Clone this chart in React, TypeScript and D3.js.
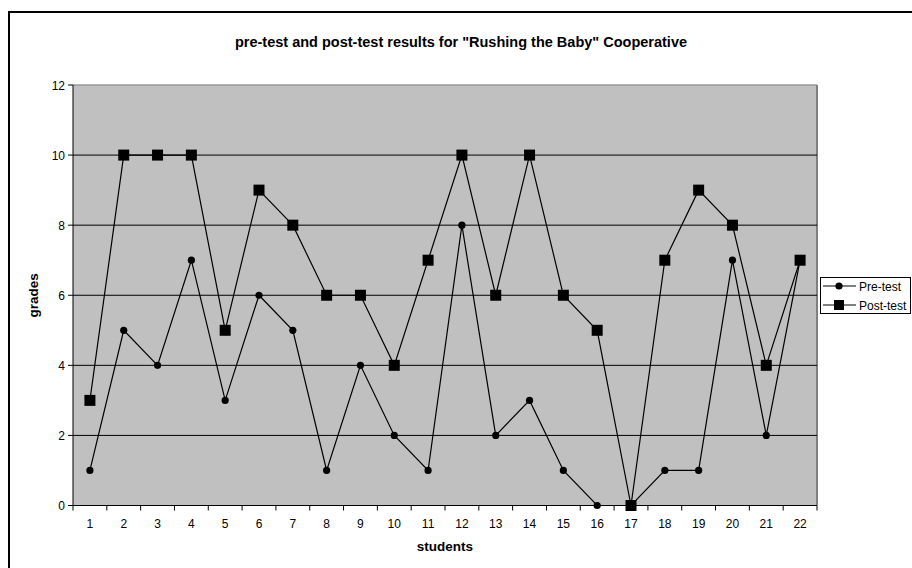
import React from "react";
import * as d3 from "d3";

const students = d3.range(1, 23).map(String);
const preTest = [1, 5, 4, 7, 3, 6, 5, 1, 4, 2, 1, 8, 2, 3, 1, 0, 0, 1, 1, 7, 2, 7];
const postTest = [3, 10, 10, 10, 5, 9, 8, 6, 6, 4, 7, 10, 6, 10, 6, 5, 0, 7, 9, 8, 4, 7];
const yTicks = [0, 2, 4, 6, 8, 10, 12];
const titleText = 'pre-test and post-test results for "Rushing the Baby" Cooperative';

const W = 912;
const H = 568;
const plot = { left: 73, right: 817, top: 85, bottom: 505.5 };
const font = "'Liberation Sans', Arial, sans-serif";

export default function App() {
  const x = d3.scaleBand<string>().domain(students).range([plot.left, plot.right]);
  const y = d3.scaleLinear().domain([0, 12]).range([plot.bottom, plot.top]);
  const cx = (i: number) => (x(students[i]) as number) + x.bandwidth() / 2;
  const line = d3
    .line<number>()
    .x((_, i) => cx(i))
    .y((d) => y(d));
  const boundaries = students.map((s) => x(s) as number).concat([plot.right]);

  return (
    <svg
      width={W}
      height={H}
      style={{ position: "absolute", left: 0, top: 0, background: "#fff" }}
      fontFamily={font}
    >
      <rect x={0} y={0} width={W} height={H} fill="#fff" />
      {/* outer chart frame */}
      <rect x={9} y={12} width={W + 20} height={H + 20} fill="none" stroke="#000" strokeWidth={2} />

      <text x={461} y={47} textAnchor="middle" fontSize={14.5} fontWeight="bold">
        {titleText}
      </text>

      {/* plot area */}
      <rect
        x={plot.left}
        y={plot.top}
        width={plot.right - plot.left}
        height={plot.bottom - plot.top}
        fill="#c0c0c0"
      />
      <line x1={plot.left} x2={plot.right} y1={plot.top} y2={plot.top} stroke="#9a9a9a" strokeWidth={1.5} />
      <line x1={plot.right} x2={plot.right} y1={plot.top} y2={plot.bottom} stroke="#808080" strokeWidth={2} />

      {/* gridlines */}
      {yTicks
        .filter((t) => t > 0 && t < 12)
        .map((t) => (
          <line key={t} x1={plot.left} x2={plot.right} y1={y(t)} y2={y(t)} stroke="#000" strokeWidth={1} />
        ))}

      {/* y axis */}
      <line x1={plot.left} x2={plot.left} y1={plot.top} y2={plot.bottom} stroke="#000" strokeWidth={1} />
      {yTicks.map((t) => (
        <g key={t}>
          <line x1={plot.left - 5} x2={plot.left} y1={y(t)} y2={y(t)} stroke="#000" />
          <text x={plot.left - 8} y={y(t) + 4.5} textAnchor="end" fontSize={12}>
            {t}
          </text>
        </g>
      ))}

      {/* x axis */}
      <line x1={plot.left} x2={plot.right} y1={plot.bottom} y2={plot.bottom} stroke="#000" strokeWidth={1} />
      {boundaries.map((b, i) => (
        <line key={i} x1={b} x2={b} y1={plot.bottom} y2={plot.bottom + 5} stroke="#000" />
      ))}
      {students.map((s, i) => (
        <text key={s} x={cx(i)} y={527.5} textAnchor="middle" fontSize={12}>
          {s}
        </text>
      ))}

      <text x={445} y={551} textAnchor="middle" fontSize={13.5} fontWeight="bold">
        students
      </text>
      <text
        transform={`translate(38,${(plot.top + plot.bottom) / 2}) rotate(-90)`}
        textAnchor="middle"
        fontSize={13.5}
        fontWeight="bold"
      >
        grades
      </text>

      {/* series */}
      <path d={line(preTest) as string} fill="none" stroke="#000" strokeWidth={1.2} />
      <path d={line(postTest) as string} fill="none" stroke="#000" strokeWidth={1.2} />
      {preTest.map((v, i) => (
        <circle key={`pre${i}`} cx={cx(i)} cy={y(v)} r={3.6} fill="#000" />
      ))}
      {postTest.map((v, i) => (
        <rect key={`post${i}`} x={cx(i) - 5.5} y={y(v) - 5.5} width={11} height={11} fill="#000" />
      ))}

      {/* legend */}
      <rect x={820.5} y={277.5} width={90} height={36} fill="#fff" stroke="#000" strokeWidth={1} />
      <line x1={823} x2={856} y1={286} y2={286} stroke="#000" strokeWidth={1.2} />
      <circle cx={839} cy={286} r={3.6} fill="#000" />
      <text x={859} y={290.5} fontSize={12}>
        Pre-test
      </text>
      <line x1={823} x2={856} y1={305} y2={305} stroke="#000" strokeWidth={1.2} />
      <rect x={834} y={300} width={10} height={10} fill="#000" />
      <text x={859} y={309.5} fontSize={12}>
        Post-test
      </text>
    </svg>
  );
}
